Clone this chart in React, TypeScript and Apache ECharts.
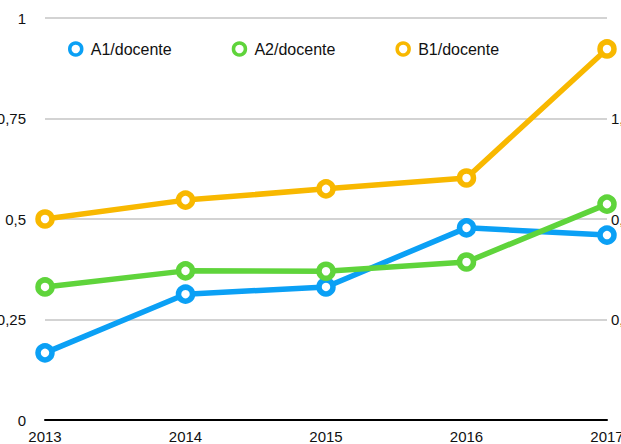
import React, { useEffect, useRef } from "react";
import * as echarts from "echarts";

const years = ["2013", "2014", "2015", "2016", "2017"];
const a1Values = [0.167, 0.313, 0.331, 0.478, 0.46];
const a2Values = [0.331, 0.371, 0.37, 0.393, 0.537];
const b1Values = [0.5, 0.547, 0.575, 0.602, 0.923];
const leftTickLabels: Record<string, string> = { "0": "0", "0.25": "0,25", "0.5": "0,5", "0.75": "0,75", "1": "1" };
const rightTickLabels: Record<string, string> = { "0.25": "0,4", "0.5": "0,8", "0.75": "1,2" };

const FONT = "'Liberation Sans', Arial, Helvetica, sans-serif";

export default function App() {
  const ref = useRef<HTMLDivElement>(null);
  useEffect(() => {
    if (!ref.current) return;
    const chart = echarts.init(ref.current, null, { renderer: "svg" });
    const mk = (name: string, data: number[], color: string) => ({
      name,
      type: "line",
      data,
      yAxisIndex: 0,
      symbol: "circle",
      symbolSize: 14,
      lineStyle: { color, width: 5.5 },
      itemStyle: { color: "#ffffff", borderColor: color, borderWidth: 5.5 },
      emphasis: { disabled: true },
      z: 3,
    });
    chart.setOption({
      animation: false,
      grid: { left: 45, right: 14, top: 18, bottom: 24, containLabel: false, outerBoundsMode: "none" },
      legend: {
        left: 63,
        top: 36,
        itemWidth: 12,
        itemHeight: 12,
        itemGap: 60,
        icon: "circle",
        itemStyle: { color: "#ffffff", borderWidth: 3.5 },
        textStyle: { fontFamily: FONT, fontSize: 16, color: "#111111", padding: [0, 0, 0, 4] },
        data: [
          { name: "A1/docente", itemStyle: { borderColor: "#0ba0f5" } },
          { name: "A2/docente", itemStyle: { borderColor: "#5fd43b" } },
          { name: "B1/docente", itemStyle: { borderColor: "#f8b800" } },
        ],
      },
      xAxis: {
        type: "category",
        data: years,
        boundaryGap: false,
        axisLine: { show: true, lineStyle: { color: "#000000", width: 2 } },
        axisTick: { show: false },
        axisLabel: { fontFamily: FONT, fontSize: 15, color: "#111111", margin: 9 },
        splitLine: { show: false },
      },
      yAxis: [
        {
          type: "value",
          min: 0,
          max: 1,
          interval: 0.25,
          axisLine: { show: false },
          axisTick: { show: false },
          axisLabel: {
            fontFamily: FONT,
            fontSize: 15,
            color: "#111111",
            margin: 19,
            formatter: (v: number) => leftTickLabels[String(v)] ?? "",
          },
          splitLine: { show: true, lineStyle: { color: "#c4c4c4", width: 1.5 } },
        },
        {
          type: "value",
          min: 0,
          max: 1,
          interval: 0.25,
          position: "right",
          axisLine: { show: false },
          axisTick: { show: false },
          axisLabel: {
            fontFamily: FONT,
            fontSize: 15,
            color: "#111111",
            margin: 4,
            formatter: (v: number) => rightTickLabels[String(v)] ?? "",
          },
          splitLine: { show: false },
        },
      ],
      series: [
        mk("A1/docente", a1Values, "#0ba0f5"),
        mk("A2/docente", a2Values, "#5fd43b"),
        mk("B1/docente", b1Values, "#f8b800"),
      ],
    });
    return () => chart.dispose();
  }, []);
  return (
    <div
      ref={ref}
      style={{ position: "fixed", left: 0, top: 0, width: 621, height: 444, background: "#ffffff" }}
    />
  );
}
